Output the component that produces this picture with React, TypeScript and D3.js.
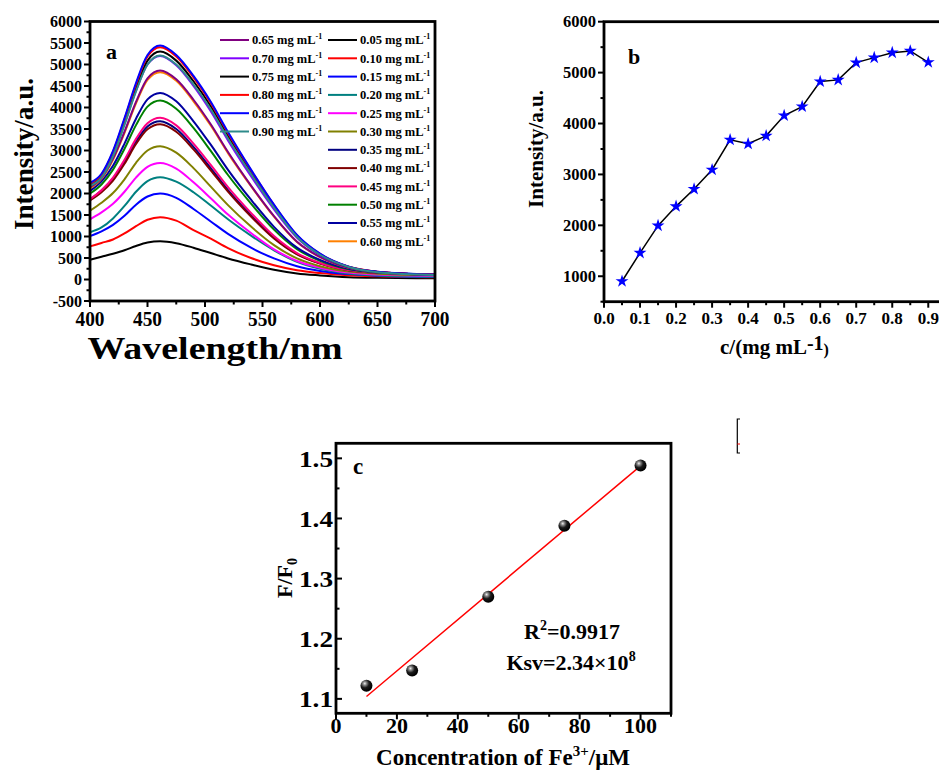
import React from "react";
import * as d3 from "d3";

const W = 939;
const H = 771;
const FONT = "'Liberation Serif', 'Times New Roman', serif";

// ---------- panel a : emission spectra ----------
const wavelengths = [400, 410, 420, 430, 440, 450, 461, 475, 490, 505, 520, 540, 560, 580, 600, 625, 650, 700];
const concLabels = ["0.05", "0.10", "0.15", "0.20", "0.25", "0.30", "0.35", "0.40", "0.45",
  "0.50", "0.55", "0.60", "0.65", "0.70", "0.75", "0.80", "0.85", "0.90"];
const curveColors = ["#000000", "#ff0000", "#0000ff", "#008080", "#ff00ff", "#808000", "#000080", "#800000", "#ff0080",
  "#008000", "#0000a0", "#ff8000", "#800080", "#8000ff", "#000000", "#ff0000", "#0000ff", "#2e8b8b"];
const spectra = [
  [460, 530, 600, 680, 780, 860, 890, 845, 740, 615, 490, 350, 225, 140, 95, 55, 40, 30],
  [770, 850, 930, 1070, 1240, 1390, 1450, 1370, 1150, 950, 730, 500, 330, 215, 150, 100, 75, 50],
  [1010, 1120, 1270, 1480, 1740, 1930, 2000, 1900, 1640, 1350, 1060, 740, 490, 310, 200, 125, 90, 60],
  [1100, 1210, 1420, 1710, 2040, 2290, 2380, 2275, 2030, 1720, 1400, 1020, 680, 410, 250, 140, 95, 65],
  [1400, 1560, 1760, 2040, 2370, 2620, 2710, 2580, 2260, 1890, 1510, 1080, 700, 430, 275, 160, 115, 85],
  [1600, 1785, 2010, 2330, 2715, 3000, 3100, 2950, 2590, 2160, 1730, 1230, 800, 490, 310, 185, 135, 100],
  [1860, 2070, 2350, 2745, 3210, 3560, 3680, 3500, 3085, 2590, 2080, 1495, 970, 595, 375, 215, 160, 110],
  [1840, 2030, 2300, 2690, 3150, 3495, 3610, 3435, 3025, 2540, 2045, 1465, 955, 585, 370, 215, 155, 110],
  [1870, 2075, 2370, 2785, 3270, 3635, 3760, 3585, 3160, 2665, 2150, 1550, 1010, 615, 385, 220, 160, 110],
  [2000, 2210, 2555, 3040, 3590, 4020, 4160, 3970, 3525, 2990, 2430, 1765, 1160, 705, 435, 240, 165, 115],
  [2060, 2285, 2645, 3160, 3740, 4190, 4340, 4145, 3680, 3135, 2550, 1855, 1225, 740, 455, 250, 170, 120],
  [2120, 2340, 2785, 3410, 4095, 4640, 4820, 4620, 4145, 3580, 2940, 2170, 1460, 870, 520, 270, 175, 110],
  [2150, 2360, 2810, 3440, 4130, 4680, 4860, 4655, 4180, 3610, 2965, 2185, 1475, 880, 525, 270, 175, 110],
  [2200, 2415, 2915, 3625, 4390, 5000, 5200, 4985, 4505, 3915, 3235, 2400, 1630, 970, 565, 290, 175, 110],
  [2210, 2400, 2915, 3655, 4450, 5090, 5300, 5090, 4610, 4030, 3340, 2490, 1695, 1005, 585, 290, 175, 105],
  [2230, 2440, 2970, 3725, 4535, 5185, 5400, 5185, 4700, 4105, 3400, 2540, 1730, 1025, 595, 295, 180, 108],
  [2250, 2460, 2990, 3755, 4570, 5220, 5440, 5220, 4735, 4135, 3430, 2555, 1740, 1035, 600, 300, 180, 110],
  [2180, 2370, 2865, 3595, 4375, 5000, 5210, 5000, 4535, 3960, 3280, 2450, 1665, 990, 575, 290, 170, 105],
];
const legendCol1 = [12, 13, 14, 15, 16, 17];
const legendCol2 = [0, 1, 2, 3, 4, 5, 6, 7, 8, 9, 10, 11];
const xTicksA = [400, 450, 500, 550, 600, 650, 700];
const yTicksA = [-500, 0, 500, 1000, 1500, 2000, 2500, 3000, 3500, 4000, 4500, 5000, 5500, 6000];

// ---------- panel b : peak intensity vs concentration ----------
const concValues = [0.05, 0.1, 0.15, 0.2, 0.25, 0.3, 0.35, 0.4, 0.45, 0.5, 0.55, 0.6, 0.65, 0.7, 0.75, 0.8, 0.85, 0.9];
const peakIntensity = [902, 1459, 1994, 2373, 2713, 3092, 3680, 3602, 3758, 4157, 4333, 4824, 4857, 5196, 5294, 5392, 5425, 5203];
const xTicksB = [0, 0.1, 0.2, 0.3, 0.4, 0.5, 0.6, 0.7, 0.8, 0.9];
const yTicksB = [1000, 2000, 3000, 4000, 5000, 6000];

// ---------- panel c : F/F0 vs Fe3+ ----------
const feConc = [10, 25, 50, 75, 100];
const ratioF = [1.122, 1.147, 1.27, 1.388, 1.488];
const xTicksC = [0, 20, 40, 60, 80, 100];
const yTicksC = [1.1, 1.2, 1.3, 1.4, 1.5];

const xA = d3.scaleLinear().domain([400, 700]).range([90, 435]);
const yA = d3.scaleLinear().domain([-500, 6000]).range([301, 21.5]);
const xB = d3.scaleLinear().domain([0, 1]).range([604, 964.3]);
const yB = d3.scaleLinear().domain([500, 6000]).range([301.7, 21.7]);
const xC = d3.scaleLinear().domain([0, 110]).range([336, 671]);
const yC = d3.scaleLinear().domain([1.076, 1.525]).range([713.3, 443.3]);

const mids = (t: number[]) => t.slice(1).map((v, i) => (v + t[i]) / 2);

function LeftTicks({ scale, ticks, x, fmt, size, inward, minor, tl }: any) {
  const dir = inward ? 1 : -1;
  return (
    <g>
      {ticks.map((t: number) => (
        <line key={"M" + t} x1={x} x2={x + dir * 6} y1={scale(t)} y2={scale(t)} stroke="#000" strokeWidth={2} />
      ))}
      {(minor || []).map((t: number) => (
        <line key={"m" + t} x1={x} x2={x + dir * 3.5} y1={scale(t)} y2={scale(t)} stroke="#000" strokeWidth={2} />
      ))}
      {ticks.map((t: number) => (
        <text key={"t" + t} x={x - (inward ? 3 : 8)} y={scale(t)} dy="0.35em" textAnchor="end"
          fontSize={size} fontWeight="bold" textLength={tl} lengthAdjust="spacingAndGlyphs">{fmt(t)}</text>
      ))}
    </g>
  );
}

function BottomTicks({ scale, ticks, y, fmt, size, minor, labelY, tl }: any) {
  return (
    <g>
      {ticks.map((t: number) => (
        <line key={"M" + t} x1={scale(t)} x2={scale(t)} y1={y} y2={y + 6} stroke="#000" strokeWidth={2} />
      ))}
      {(minor || []).map((t: number) => (
        <line key={"m" + t} x1={scale(t)} x2={scale(t)} y1={y} y2={y + 3.5} stroke="#000" strokeWidth={2} />
      ))}
      {ticks.map((t: number) => (
        <text key={"t" + t} x={scale(t)} y={labelY} textAnchor="middle" fontSize={size} fontWeight="bold"
          textLength={tl} lengthAdjust="spacingAndGlyphs">{fmt(t)}</text>
      ))}
    </g>
  );
}

function PanelA() {
  const line = d3.line<number>().x((_, i) => xA(wavelengths[i])).y((d) => yA(d)).curve(d3.curveMonotoneX);
  const rowY = (i: number) => 40 + i * 18.3;
  const legendItem = (idx: number, row: number, lx: number) => (
    <g key={"lg" + idx}>
      <line x1={lx} x2={lx + 29} y1={rowY(row)} y2={rowY(row)} stroke={curveColors[idx]} strokeWidth={2} />
      <text x={lx + 32} y={rowY(row) + 4.3} fontSize={12.5} fontWeight="bold">
        {concLabels[idx]} mg mL<tspan fontSize={8} dy={-5}>-1</tspan>
      </text>
    </g>
  );
  return (
    <g>
      {spectra.map((s, i) => (
        <path key={i} d={line(s) || ""} fill="none" stroke={curveColors[i]} strokeWidth={2} />
      ))}
      <rect x={90} y={21.5} width={345} height={279.5} fill="none" stroke="#000" strokeWidth={2.8} />
      <LeftTicks scale={yA} ticks={yTicksA} x={90} fmt={(d: number) => String(d)} size={16}
        minor={mids(yTicksA)} />
      <BottomTicks scale={xA} ticks={xTicksA} y={301} fmt={(d: number) => String(d)} size={21}
        minor={mids(xTicksA)} labelY={325.5} tl={29} />
      {legendCol1.map((idx, r) => legendItem(idx, r, 220))}
      {legendCol2.map((idx, r) => legendItem(idx, r, 328))}
      <text x={106} y={59} fontSize={22} fontWeight="bold">a</text>
      <text transform="translate(33,154) rotate(-90)" textAnchor="middle" fontSize={27} fontWeight="bold"
        textLength={152} lengthAdjust="spacingAndGlyphs">Intensity/a.u.</text>
      <text x={215} y={358.5} textAnchor="middle" fontSize={31} fontWeight="bold" textLength={255}
        lengthAdjust="spacingAndGlyphs">Wavelength/nm</text>
    </g>
  );
}

function PanelB() {
  const line = d3.line<number>().x((_, i) => xB(concValues[i])).y((d) => yB(d));
  const star = d3.symbol().type(d3.symbolStar).size(52)();
  return (
    <g>
      <rect x={604} y={21.7} width={360.3} height={280} fill="none" stroke="#000" strokeWidth={2.8} />
      <LeftTicks scale={yB} ticks={yTicksB} x={604} fmt={(d: number) => String(d)} size={16.5}
        minor={[500, 1500, 2500, 3500, 4500, 5500]} />
      <BottomTicks scale={xB} ticks={xTicksB} y={301.7} fmt={(d: number) => d.toFixed(1)} size={17}
        minor={mids(xTicksB)} labelY={324} />
      <path d={line(peakIntensity) || ""} fill="none" stroke="#000" strokeWidth={1.5} />
      {peakIntensity.map((v, i) => (
        <path key={i} d={star || ""} transform={`translate(${xB(concValues[i])},${yB(v)})`} fill="#0000ff" />
      ))}
      <text x={628} y={64} fontSize={22} fontWeight="bold">b</text>
      <text transform="translate(543,149) rotate(-90)" textAnchor="middle" fontSize={21} fontWeight="bold"
        textLength={118} lengthAdjust="spacingAndGlyphs">Intensity/a.u.</text>
      <text x={720} y={354} fontSize={21} fontWeight="bold">
        c/(mg mL<tspan fontSize={20} dy={-4}>-1</tspan><tspan fontSize={16} dy={5}>)</tspan>
      </text>
    </g>
  );
}

function PanelC() {
  const mx = d3.mean(feConc) as number;
  const my = d3.mean(ratioF) as number;
  const sxy = d3.sum(feConc, (x, i) => (x - mx) * (ratioF[i] - my));
  const sxx = d3.sum(feConc, (x) => (x - mx) * (x - mx));
  const slope = sxy / sxx;
  const icpt = my - slope * mx;
  const x0 = feConc[0];
  const x1 = feConc[feConc.length - 1];
  return (
    <g>
      <defs>
        <radialGradient id="ball" cx="0.36" cy="0.32" r="0.65">
          <stop offset="0" stopColor="#f0f0f0" />
          <stop offset="0.22" stopColor="#8a8a8a" />
          <stop offset="0.55" stopColor="#1a1a1a" />
          <stop offset="1" stopColor="#000" />
        </radialGradient>
      </defs>
      <rect x={336} y={443.3} width={335} height={270} fill="none" stroke="#000" strokeWidth={2.8} />
      <LeftTicks scale={yC} ticks={yTicksC} x={336} fmt={(d: number) => d.toFixed(1)} size={24} inward
        minor={[1.15, 1.25, 1.35, 1.45]} tl={34} />
      <BottomTicks scale={xC} ticks={xTicksC} y={713.3} fmt={(d: number) => String(d)} size={22}
        minor={[10, 30, 50, 70, 90, 110]} labelY={733} />
      <line x1={xC(x0)} x2={xC(x1)} y1={yC(icpt + slope * x0)} y2={yC(icpt + slope * x1)}
        stroke="#ff0000" strokeWidth={1.5} />
      {feConc.map((x, i) => (
        <circle key={i} cx={xC(x)} cy={yC(ratioF[i])} r={6} fill="url(#ball)" />
      ))}
      <text x={353} y={474} fontSize={23} fontWeight="bold">c</text>
      <text x={572} y={639} textAnchor="middle" fontSize={22} fontWeight="bold">
        R<tspan fontSize={14} dy={-9}>2</tspan><tspan dy={9}>=0.9917</tspan>
      </text>
      <text x={571} y={670} textAnchor="middle" fontSize={22} fontWeight="bold">
        Ksv=2.34×10<tspan fontSize={14} dy={-9}>8</tspan>
      </text>
      <text transform="translate(292,578) rotate(-90)" textAnchor="middle" fontSize={22} fontWeight="bold">
        F/F<tspan fontSize={14} dy={5}>0</tspan>
      </text>
      <text x={503} y={765} textAnchor="middle" fontSize={23} fontWeight="bold">
        Concentration of Fe<tspan fontSize={15} dy={-9}>3+</tspan><tspan dy={9}>/μM</tspan>
      </text>
      {/* stray bracket at the right */}
      <path d="M740,419H737.3V453H740" fill="none" stroke="#000" strokeWidth={1.2} />
      <line x1={737.3} x2={740} y1={444} y2={444} stroke="#ff0000" strokeWidth={1} />
    </g>
  );
}

export default function App() {
  return (
    <svg width={W} height={H} style={{ position: "absolute", left: 0, top: 0, background: "#fff" }}
      fontFamily={FONT}>
      <rect width={W} height={H} fill="#fff" />
      <PanelA />
      <PanelB />
      <PanelC />
    </svg>
  );
}
